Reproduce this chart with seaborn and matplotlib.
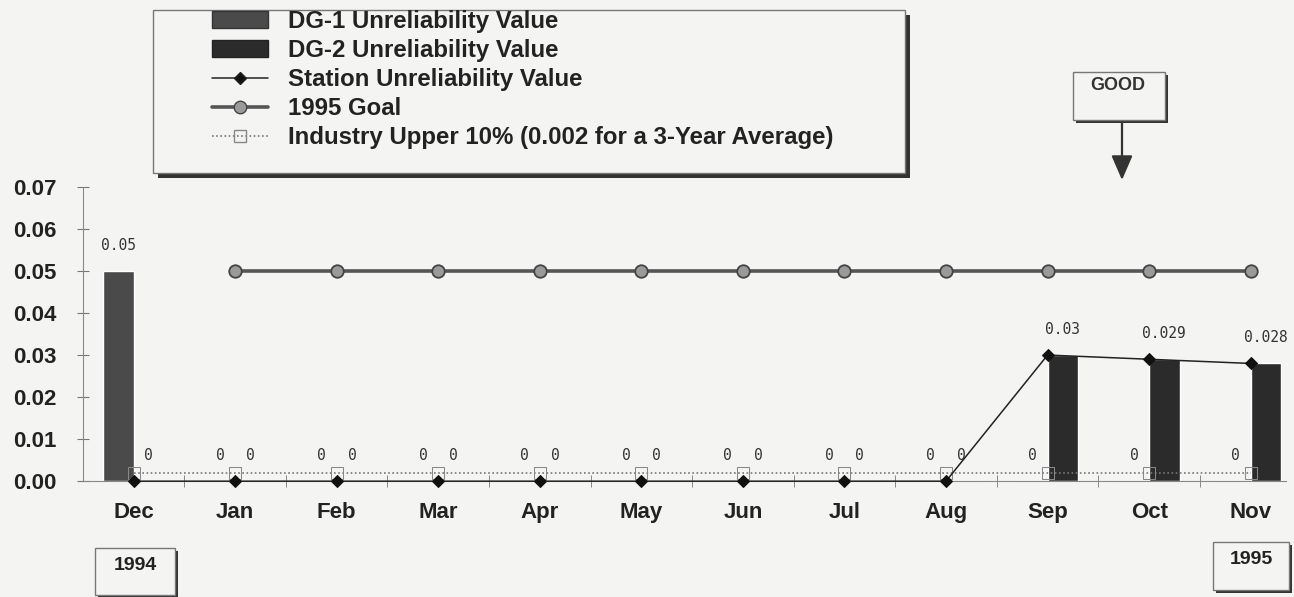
import numpy as np
import pandas as pd
import matplotlib
matplotlib.use("Agg")
import matplotlib.pyplot as plt
import matplotlib.patches as mpatches
from matplotlib.lines import Line2D
import seaborn as sns

# data
months = ["Dec", "Jan", "Feb", "Mar", "Apr", "May", "Jun", "Jul", "Aug", "Sep", "Oct", "Nov"]
dg1 = [0.05, 0, 0, 0, 0, 0, 0, 0, 0, 0, 0, 0]
dg2 = [0, 0, 0, 0, 0, 0, 0, 0, 0, 0.03, 0.029, 0.028]
station = [0, 0, 0, 0, 0, 0, 0, 0, 0, 0.03, 0.029, 0.028]
goal = [np.nan, 0.05, 0.05, 0.05, 0.05, 0.05, 0.05, 0.05, 0.05, 0.05, 0.05, 0.05]
industry = [0.002] * 12
yticks = [0.00, 0.01, 0.02, 0.03, 0.04, 0.05, 0.06, 0.07]

sns.set_style("ticks")
fonts = ["Liberation Sans", "DejaVu Sans"]
plt.rcParams["font.family"] = fonts

W, H = 1294, 597
BG = "#f4f4f2"
DG1_COLOR = "#4a4a4a"
DG2_COLOR = "#2b2b2b"
TXT = "#222222"

bars = pd.DataFrame({
    "month": months * 2,
    "value": dg1 + dg2,
    "unit": ["DG-1 Unreliability Value"] * 12 + ["DG-2 Unreliability Value"] * 12,
})
lines = pd.DataFrame({"pos": np.arange(len(months)), "station": station,
                      "goal": goal, "industry": industry})

fig = plt.figure(figsize=(W / 100, H / 100), dpi=100, facecolor=BG)
ax = fig.add_axes([0.064, 0.194, 0.930, 0.493], facecolor=BG)

sns.barplot(data=bars, x="month", y="value", hue="unit", order=months,
            palette=[DG1_COLOR, DG2_COLOR], width=0.6, dodge=True,
            saturation=1, legend=False, ax=ax, zorder=2)

for cont in ax.containers:
    ax.bar_label(cont, labels=[f"{v:g}" for v in cont.datavalues], padding=13,
                 fontsize=10.5, family="DejaVu Sans Mono", color="#333333")

sns.lineplot(data=lines, x="pos", y="goal", ax=ax, color="#555555", lw=2.6,
             marker="o", markersize=9, markerfacecolor="#9a9a9a",
             markeredgecolor="#444444", markeredgewidth=1.3, zorder=3)
sns.lineplot(data=lines, x="pos", y="industry", ax=ax, color="#777777", lw=1.2,
             ls=(0, (1, 1.5)), marker="s", markersize=8, markerfacecolor="none",
             markeredgecolor="#888888", zorder=3, clip_on=False)
sns.lineplot(data=lines, x="pos", y="station", ax=ax, color="#222222", lw=1.1,
             marker="D", markersize=6, markerfacecolor="#111111",
             markeredgecolor="#111111", zorder=4, clip_on=False)

ax.set_xlim(-0.5, 11.35)
ax.set_ylim(0, 0.07)
ax.set_yticks(yticks)
ax.set_yticklabels([f"{t:.2f}" for t in yticks], fontsize=16, fontweight="bold", color=TXT)
ax.set_xticks(range(len(months)))
ax.set_xticklabels(months, fontsize=16, fontweight="bold", color=TXT)
ax.set_xticks(np.arange(0.5, 11.5, 1.0), minor=True)
ax.tick_params(axis="x", which="major", length=0, pad=15)
ax.tick_params(axis="x", which="minor", length=8, direction="inout", color="#777777")
ax.tick_params(axis="y", length=8, direction="inout", color="#777777", pad=15)
ax.set_xlabel("")
ax.set_ylabel("")
sns.despine(ax=ax)
ax.spines["left"].set_color("#888888")
ax.spines["bottom"].set_color("#888888")


def framed_box(x0, y0, w, h, shadow=5):
    # box in pixel coords (from top-left) with dark shadow at right and bottom
    fig.patches.append(mpatches.Rectangle(((x0 + shadow) / W, 1 - (y0 + h + shadow) / H),
                                          w / W, h / H, transform=fig.transFigure,
                                          facecolor="#333333", edgecolor="none"))
    fig.patches.append(mpatches.Rectangle((x0 / W, 1 - (y0 + h) / H), w / W, h / H,
                                          transform=fig.transFigure, facecolor=BG,
                                          edgecolor="#777777", lw=1))


# legend
framed_box(153, 10, 752, 163)
handles = [
    mpatches.Patch(facecolor=DG1_COLOR, edgecolor="#333333"),
    mpatches.Patch(facecolor=DG2_COLOR, edgecolor="#222222"),
    Line2D([], [], color="#222222", lw=1.1, marker="D", markersize=6,
           markerfacecolor="#111111"),
    Line2D([], [], color="#555555", lw=2.6, marker="o", markersize=9,
           markerfacecolor="#9a9a9a", markeredgecolor="#444444"),
    Line2D([], [], color="#777777", lw=1.2, ls=(0, (1, 1.5)), marker="s",
           markersize=8, markerfacecolor="none", markeredgecolor="#888888"),
]
labels = ["DG-1 Unreliability Value", "DG-2 Unreliability Value",
          "Station Unreliability Value", "1995 Goal",
          "Industry Upper 10% (0.002 for a 3-Year Average)"]
leg = fig.legend(handles, labels, loc="upper left",
                 bbox_to_anchor=(212 / W, 1 - 10 / H), frameon=False,
                 fontsize=17.3, handlelength=2.35, handletextpad=0.8, borderpad=0,
                 labelspacing=0.25, borderaxespad=0)
for t in leg.get_texts():
    t.set_fontweight("bold")
    t.set_color(TXT)

# GOOD arrow
framed_box(1073, 72, 92, 48, shadow=3)
fig.text(1118 / W, 1 - 86 / H, "GOOD", ha="center", va="center",
         fontsize=13, fontweight="bold", color="#333333")
ax.annotate("", xy=(1122 / W, 1 - 180 / H), xytext=(1122 / W, 1 - 120 / H),
            xycoords="figure fraction", textcoords="figure fraction",
            arrowprops=dict(arrowstyle="-|>,head_length=1.5,head_width=0.65",
                            color="#333333", lw=1.6, shrinkA=0, shrinkB=0),
            annotation_clip=False)

# year boxes
for x0, y0, w, h, year in [(95, 548, 80, 47, "1994"), (1213, 542, 76, 48, "1995")]:
    framed_box(x0, y0, w, h, shadow=3)
    fig.text((x0 + w / 2) / W, 1 - (y0 + 17) / H, year, ha="center", va="center",
             fontsize=14, fontweight="bold", color=TXT)

fig.savefig("out.png", dpi=100, facecolor=BG)
